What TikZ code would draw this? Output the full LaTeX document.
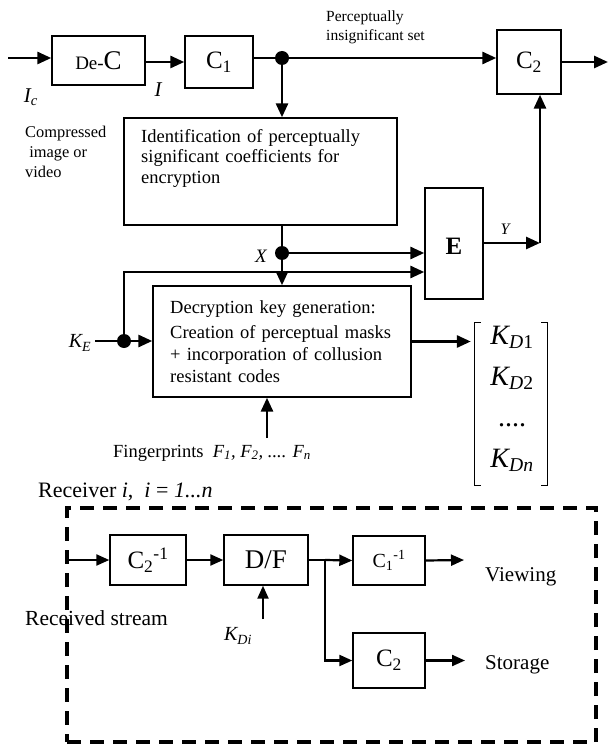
\documentclass[tikz,border=0pt]{standalone}
\usepackage{fontspec}
\setmainfont{Liberation Serif}
\usetikzlibrary{arrows.meta}

\newcommand{\fsz}[2]{\fontsize{#1}{#2}\selectfont}

\begin{document}
\begin{tikzpicture}[x=1pt,y=-1pt,>={Triangle[length=14pt,width=12pt]},
  blk/.style={draw,line width=1.4pt,inner sep=0pt},
  conn/.style={line width=2.8pt},
  rconn/.style={line width=2.2pt,>={Triangle[length=13pt,width=11pt]}},
  jdot/.style={circle,fill,inner sep=0pt,minimum size=14pt},
  lbl/.style={inner sep=0pt,align=left},
  brk/.style={line width=1.1pt},
  rframe/.style={draw,line width=3.8pt,dash pattern=on 14pt off 9pt,inner sep=0pt}]
\useasboundingbox (0,0) rectangle (610,746);

% sender blocks
\node[blk,minimum width=93pt,minimum height=49pt] (dec) at (98.5,60.5) {\raisebox{-8pt}{\fsz{19}{19}De-\fsz{27}{27}C}};
\node[blk,minimum width=68pt,minimum height=52pt,font=\fsz{25}{25}] (c1) at (219,62) {\raisebox{-7pt}{C\textsubscript{1}}};
\node[blk,minimum width=64pt,minimum height=64pt,font=\fsz{25}{25}] (c2) at (529,62) {C\textsubscript{2}};
\node[blk,minimum width=273pt,minimum height=107pt] (ident) at (260.5,171.5) {};
\node[lbl,anchor=north west,text width=250pt,font=\fsz{18.5}{20.5}] (identtxt) at (141,129) {Identification of perceptually\\significant coefficients for\\encryption};
\node[blk,minimum width=58pt,minimum height=111pt,font=\bfseries\fsz{25}{25}] (enc) at (454,243.5) {\raisebox{-22pt}{E}};
\node[blk,minimum width=258pt,minimum height=111pt] (keygen) at (282,341.5) {};
\node[lbl,anchor=north west,text width=235pt,font=\fsz{18.5}{22}] (keytxt) at (170,300) {Decryption key generation:\\[3pt]Creation of perceptual masks\\+ incorporation of collusion\\resistant codes};
\node[inner sep=0pt,minimum width=80pt,minimum height=162pt] (kmat) at (511,404) {};
\node[lbl,align=center,font=\itshape\fsz{28}{41}] (kents) at (512,399) {K\textsubscript{D\upshape 1}\\K\textsubscript{D\upshape 2}\\{\upshape....}\\K\textsubscript{Dn}};

% junctions
\node[jdot] (j1) at (282,58) {};
\node[jdot] (jx) at (282,253) {};
\node[jdot] (jk) at (124,341) {};
\coordinate (src) at (8,58);
\coordinate (out) at (608,62);
\coordinate (ycorner) at (540,243);
\coordinate (kein) at (95,341);
\coordinate (fp) at (267,438);

% labels
\node[lbl,font=\itshape\fsz{21}{21}] (iclab) at (31,97) {I\textsubscript{c}};
\node[lbl,font=\itshape\fsz{21}{21}] (ilab) at (158,90) {I};
\node[lbl,anchor=north west,font=\fsz{15.5}{19}] (pislab) at (326,11) {Perceptually\\insignificant set};
\node[lbl,anchor=north west,font=\fsz{16.4}{20}] (cmplab) at (25,126) {Compressed\\\ image or\\video};
\node[lbl,font=\itshape\fsz{19}{19}] (xlab) at (261,256) {X};
\node[lbl,font=\itshape\fsz{16}{16}] (ylab) at (505,229) {Y};
\node[lbl,font=\itshape\fsz{20}{20}] (kelab) at (80,343) {K\textsubscript{E}};
\node[lbl,anchor=base west,font=\fsz{18.5}{18.5}] (fplab) at (113,457) {Fingerprints\enspace\textit{F\textsubscript{1}, F\textsubscript{2}, .... F\textsubscript{n}}};

% sender connectors
\draw[conn,->] (src) -- (src -| dec.west);
\draw[conn,->] (dec.east |- c1) -- (c1.west);
\draw[conn] (c1.east |- j1) -- (j1);
\draw[conn,->] (j1) -- (j1 -| c2.west);
\draw[conn,->] (c2.east) -- (out);
\draw[conn,->] (j1) -- (j1 |- ident.north);
\draw[conn] (ident.south -| jx) -- (jx);
\draw[conn,->] (jx) -- (jx |- keygen.north);
\draw[conn,->] (jx) -- (jx -| enc.west);
\draw[conn] (kein) -- (jk);
\draw[conn,->] (jk) -- (jk -| keygen.west);
\draw[conn,->] (jk) |- ([yshift=-19pt]jx -| enc.west);
\draw[conn,->] (enc.east |- ycorner) -- (ycorner);
\draw[conn,->] (ycorner) -- (ycorner |- c2.south);
\draw[conn,->] (keygen.east) -- (keygen.east -| kmat.west);
\draw[conn,->] (fp) -- (fp |- keygen.south);
\draw[brk] ([xshift=10pt]kmat.north west) -- ([xshift=4pt]kmat.north west) -- ([xshift=4pt]kmat.south west) -- ([xshift=10pt]kmat.south west);
\draw[brk] ([xshift=-10pt]kmat.north east) -- ([xshift=-4pt]kmat.north east) -- ([xshift=-4pt]kmat.south east) -- ([xshift=-10pt]kmat.south east);

% receiver
\node[lbl,anchor=base west,font=\fsz{22}{22}] (rcvlab) at (38,497) {Receiver \textit{i},\enspace\textit{i} = \textit{1...n}};
\node[rframe,minimum width=529pt,minimum height=234pt] (rcv) at (331.5,625) {};
\node[blk,minimum width=76pt,minimum height=50pt,font=\fsz{25}{25}] (c2inv) at (148,560) {C\textsubscript{2}\textsuperscript{-1}};
\node[blk,minimum width=84pt,minimum height=50pt,font=\fsz{27}{27}] (dfbox) at (266,560) {D/F};
\node[blk,minimum width=72pt,minimum height=49pt,font=\fsz{20}{20}] (c1inv) at (389,560.5) {C\textsubscript{1}\textsuperscript{-1}};
\node[blk,minimum width=72pt,minimum height=55pt,font=\fsz{25}{25}] (c2st) at (389,660.5) {C\textsubscript{2}};
\node[lbl,font=\fsz{21.5}{21.5}] (rslab) at (96.5,618) {Received stream};
\node[lbl,font=\itshape\fsz{20}{20}] (kdilab) at (238,636) {K\textsubscript{Di}};
\node[lbl,anchor=west,font=\fsz{21}{21}] (viewlab) at (485,577) {Viewing};
\node[lbl,anchor=west,font=\fsz{21}{21}] (storlab) at (485,665) {Storage};
\coordinate (split) at (325,560);
\coordinate (viewout) at (464,560);
\coordinate (storout) at (465,660.5);
\coordinate (kdi) at (263,619);

\draw[rconn,->] (rcv.west |- c2inv) -- (c2inv.west);
\draw[rconn,->] (c2inv.east) -- (dfbox.west);
\draw[rconn] (dfbox.east) -- (split);
\draw[rconn,->] (split) -- (c1inv.west);
\draw[rconn,->] (split) |- (c2st.west);
\draw[rconn,->] (c1inv.east) -- (viewout);
\draw[rconn,->] (c2st.east) -- (storout);
\draw[rconn,->] (kdi) -- (kdi |- dfbox.south);
\end{tikzpicture}
\end{document}
